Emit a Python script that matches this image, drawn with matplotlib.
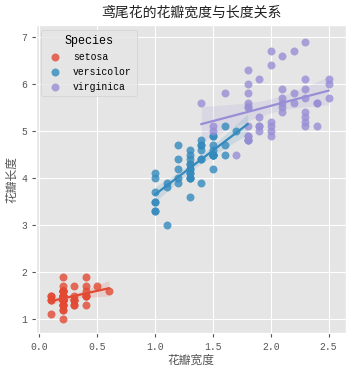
import numpy as np
import matplotlib
matplotlib.use("Agg")
import matplotlib.pyplot as plt

plt.style.use("ggplot")
plt.rcParams["font.family"] = ["Liberation Mono", "Noto Sans CJK SC"]
plt.rcParams["axes.unicode_minus"] = False

species = ["setosa", "versicolor", "virginica"]
colors = ["#E24A33", "#348ABD", "#988ED5"]

setosa_width = [0.2, 0.2, 0.2, 0.2, 0.2, 0.4, 0.3, 0.2, 0.2, 0.1, 0.2, 0.2, 0.1, 0.1, 0.2, 0.4, 0.4,
                0.3, 0.3, 0.3, 0.2, 0.4, 0.2, 0.5, 0.2, 0.2, 0.4, 0.2, 0.2, 0.2, 0.2, 0.4, 0.1, 0.2,
                0.2, 0.2, 0.2, 0.1, 0.2, 0.2, 0.3, 0.3, 0.2, 0.6, 0.4, 0.3, 0.2, 0.2, 0.2, 0.2]
setosa_length = [1.4, 1.4, 1.3, 1.5, 1.4, 1.7, 1.4, 1.5, 1.4, 1.5, 1.5, 1.6, 1.4, 1.1, 1.2, 1.5, 1.3,
                 1.4, 1.7, 1.5, 1.7, 1.5, 1.0, 1.7, 1.9, 1.6, 1.6, 1.5, 1.4, 1.6, 1.6, 1.5, 1.5, 1.4,
                 1.5, 1.2, 1.3, 1.4, 1.3, 1.5, 1.3, 1.3, 1.3, 1.6, 1.9, 1.4, 1.6, 1.4, 1.5, 1.4]
versicolor_width = [1.4, 1.5, 1.5, 1.3, 1.5, 1.3, 1.6, 1.0, 1.3, 1.4, 1.0, 1.5, 1.0, 1.4, 1.3, 1.4,
                    1.5, 1.0, 1.5, 1.1, 1.8, 1.3, 1.5, 1.2, 1.3, 1.4, 1.4, 1.7, 1.5, 1.0, 1.1, 1.0,
                    1.2, 1.6, 1.5, 1.6, 1.5, 1.3, 1.3, 1.3, 1.2, 1.4, 1.2, 1.0, 1.3, 1.2, 1.3, 1.3,
                    1.1, 1.3]
versicolor_length = [4.7, 4.5, 4.9, 4.0, 4.6, 4.5, 4.7, 3.3, 4.6, 3.9, 3.5, 4.2, 4.0, 4.7, 3.6, 4.4,
                     4.5, 4.1, 4.5, 3.9, 4.8, 4.0, 4.9, 4.7, 4.3, 4.4, 4.8, 5.0, 4.5, 3.5, 3.8, 3.7,
                     3.9, 5.1, 4.5, 4.5, 4.7, 4.4, 4.1, 4.0, 4.4, 4.6, 4.0, 3.3, 4.2, 4.2, 4.2, 4.3,
                     3.0, 4.1]
virginica_width = [2.5, 1.9, 2.1, 1.8, 2.2, 2.1, 1.7, 1.8, 1.8, 2.5, 2.0, 1.9, 2.1, 2.0, 2.4, 2.3,
                   1.8, 2.2, 2.3, 1.5, 2.3, 2.0, 2.0, 1.8, 2.1, 1.8, 1.8, 1.8, 2.1, 1.6, 1.9, 2.0,
                   2.2, 1.5, 1.4, 2.3, 2.4, 1.8, 1.8, 2.1, 2.4, 2.3, 1.9, 2.3, 2.5, 2.3, 1.9, 2.0,
                   2.3, 1.8]
virginica_length = [6.0, 5.1, 5.9, 5.6, 5.8, 6.6, 4.5, 6.3, 5.8, 6.1, 5.1, 5.3, 5.5, 5.0, 5.1, 5.3,
                    5.5, 6.7, 6.9, 5.0, 5.7, 4.9, 6.7, 4.9, 5.7, 6.0, 4.8, 4.9, 5.6, 5.8, 6.1, 6.4,
                    5.6, 5.1, 5.6, 6.1, 5.6, 5.5, 4.8, 5.4, 5.6, 5.1, 5.1, 5.9, 5.7, 5.2, 5.0, 5.2,
                    5.4, 5.1]

widths = [setosa_width, versicolor_width, virginica_width]
lengths = [setosa_length, versicolor_length, virginica_length]

fig = plt.figure(figsize=(3.53, 3.71), dpi=100)
ax = fig.add_axes([0.102, 0.102, 0.878, 0.830])

for name, c, xs, ys in zip(species, colors, widths, lengths):
    x = np.array(xs)
    y = np.array(ys)
    ax.scatter(x, y, s=33, color=c, alpha=0.8, linewidths=0, label=name, zorder=3)
    # linear fit with 95% confidence band
    slope, icpt = np.polyfit(x, y, 1)
    grid = np.linspace(x.min(), x.max(), 100)
    fit = icpt + slope * grid
    n = len(x)
    resid = y - (icpt + slope * x)
    s = np.sqrt(np.sum(resid ** 2) / (n - 2))
    sxx = np.sum((x - x.mean()) ** 2)
    se = s * np.sqrt(1 / n + (grid - x.mean()) ** 2 / sxx)
    ax.plot(grid, fit, color=c, lw=1.6, zorder=4)
    ax.fill_between(grid, fit - 2.01 * se, fit + 2.01 * se, color=c, alpha=0.15, lw=0, zorder=2)

ax.set_xlim(-0.03, 2.65)
ax.set_ylim(0.7, 7.25)
ax.set_xticks([0.0, 0.5, 1.0, 1.5, 2.0, 2.5])
ax.tick_params(labelsize=7, colors="#555555", length=3)
ax.set_xlabel("花瓣宽度", fontsize=8.5, color="#555555", labelpad=2)
ax.set_ylabel("花瓣长度", fontsize=8.5, color="#555555", labelpad=2)
ax.set_title("鸢尾花的花瓣宽度与长度关系", fontsize=10, color="#222222", pad=6)

leg = ax.legend(title="Species", loc="upper left", fontsize=7, title_fontsize=8.5,
                frameon=True, markerscale=1.0, handletextpad=0.8, borderpad=0.5)
leg.get_frame().set_facecolor("#E5E5E5")
leg.get_frame().set_edgecolor("#CCCCCC")

fig.savefig("out.png", dpi=100)
